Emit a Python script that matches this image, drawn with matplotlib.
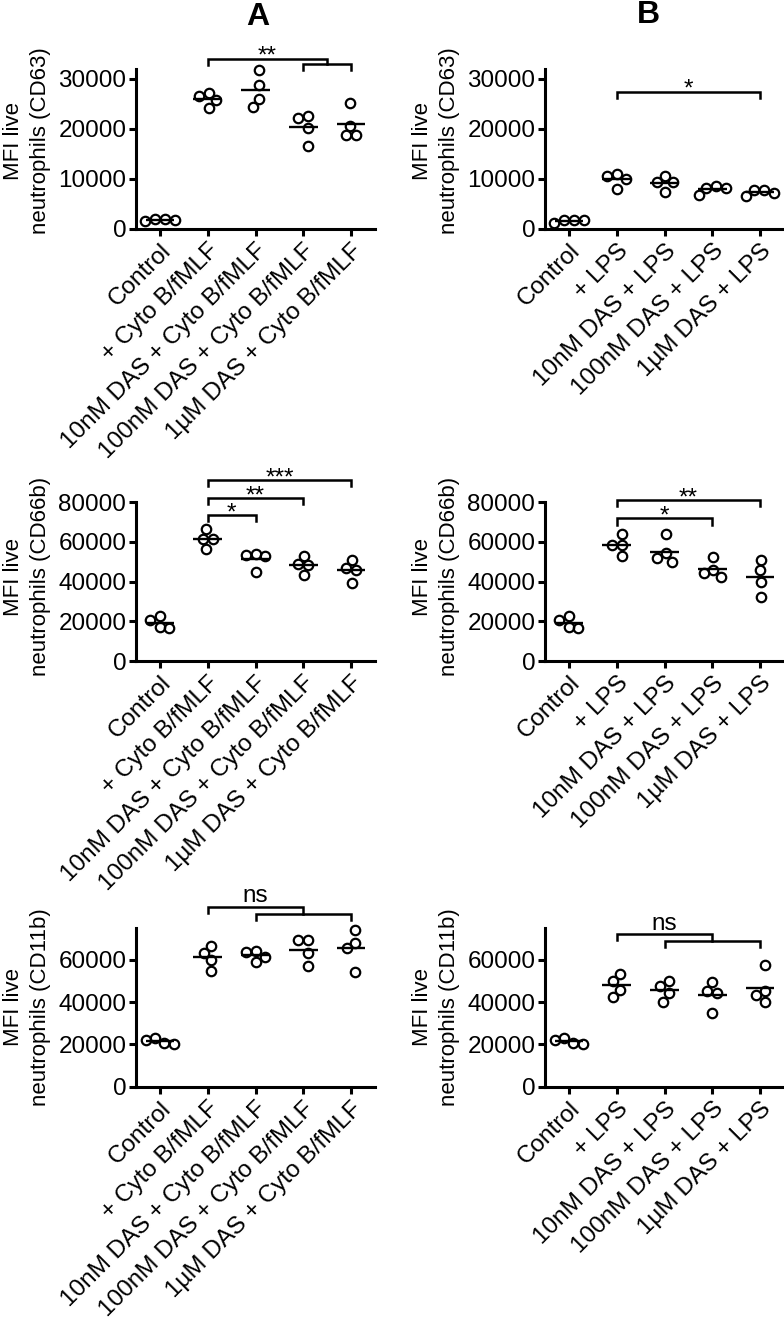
import numpy as np
import matplotlib.pyplot as plt

plt.rcParams['font.family'] = ['Liberation Sans', 'DejaVu Sans']

labels_a = ['Control', '+ Cyto B/fMLF', '10nM DAS + Cyto B/fMLF',
            '100nM DAS + Cyto B/fMLF', '1\u00b5M DAS + Cyto B/fMLF']
labels_b = ['Control', '+ LPS', '10nM DAS + LPS', '100nM DAS + LPS', '1\u00b5M DAS + LPS']

# MFI values, 4 donors per condition
cd63_a = [[1800, 1500, 1900, 1900], [26600, 27100, 25800, 24100],
          [31800, 28800, 25900, 24300], [22100, 22600, 20100, 16500],
          [25100, 20600, 18800, 18800]]
cd63_b = [[1700, 1100, 1700, 1800], [10900, 10500, 10000, 7900],
          [9300, 10500, 9300, 7300], [8100, 6800, 8100, 8500],
          [7700, 6500, 7100, 7700]]
cd66b_a = [[20600, 16700, 17200, 22600], [66300, 61600, 61600, 56300],
           [52800, 53300, 53600, 44900], [52800, 48200, 48700, 43200],
           [50700, 45700, 46600, 39300]]
cd66b_b = [[20600, 16700, 17200, 22600], [63800, 58300, 58600, 52800],
           [63800, 54100, 51600, 49900], [52400, 45700, 44100, 42400],
           [50700, 45700, 39800, 32300]]
cd11b_a = [[22100, 20200, 20900, 23200], [66800, 63500, 60100, 54800],
           [64000, 59200, 61600, 64400], [69500, 69500, 63500, 57200],
           [74300, 68200, 65600, 54500]]
cd11b_b = [[22100, 20200, 20900, 23200], [53400, 50100, 45800, 42400],
           [50100, 47700, 44300, 40300], [49800, 45500, 44200, 35100],
           [57700, 45500, 43500, 40300]]

# significance brackets: ('simple', x1, x2, y, text) / ('group', x1, (x2a, x2b), y_hi, y_lo, text)
sig_cd63_a = [('group', 1, (3, 4), 33940, 33000, '**')]
sig_cd63_b = [('simple', 1, 4, 27350, '*')]
sig_cd66b_a = [('simple', 1, 2, 73400, '*'), ('simple', 1, 3, 81900, '**'),
               ('simple', 1, 4, 90950, '***')]
sig_cd66b_b = [('simple', 1, 3, 71700, '*'), ('simple', 1, 4, 80900, '**')]
sig_cd11b_a = [('group', 1, (2, 4), 85300, 81850, 'ns')]
sig_cd11b_b = [('group', 1, (2, 4), 72200, 69050, 'ns')]

W, H = 784, 1319
fig = plt.figure(figsize=(W / 100, H / 100), dpi=100)

LW = 2.2


def swarm(ax, xc, vals, diam=10.0):
    # beeswarm-like horizontal spread, in pixels
    pts = ax.transData.transform(np.column_stack([np.full(len(vals), xc), vals]))
    ys = pts[:, 1]
    offs = np.zeros(len(vals))
    placed = []
    for i in np.argsort(-np.asarray(vals), kind='stable'):
        y = ys[i]
        cands = [0.0]
        for dx, py in placed:
            dy = abs(y - py)
            if dy < diam:
                s = np.sqrt(diam ** 2 - dy ** 2)
                cands += [dx - s, dx + s]
        cands.sort(key=lambda c: (abs(c), c))
        for c in cands:
            if all((c - dx) ** 2 + (y - py) ** 2 >= diam ** 2 - 1e-6 for dx, py in placed):
                offs[i] = c
                break
        placed.append((offs[i], y))
    offs -= (offs.max() + offs.min()) / 2
    ppc = ax.transData.transform((1, 0))[0] - ax.transData.transform((0, 0))[0]
    return xc + offs / ppc


def panel(left, bottom, height, data, labels, ymax, yticks, marker, sigs, ly):
    ax = fig.add_axes([left / W, 1 - bottom / H, 239 / W, height / H])
    ax.set_xlim(-0.5, 4.5)
    ax.set_ylim(0, ymax)
    for i, vals in enumerate(data):
        xs = swarm(ax, i, vals)
        ax.plot(xs, vals, 'o', ms=6.8, mfc='none', mec='k', mew=1.6, clip_on=False)
        ax.hlines(np.mean(vals), i - 0.3, i + 0.3, color='k', lw=1.7)
    ax.set_yticks(yticks, [str(t) for t in yticks])
    ax.set_xticks(range(5), labels, rotation=45, ha='right', rotation_mode='anchor')
    ax.spines[['top', 'right']].set_visible(False)
    ax.spines[['left', 'bottom']].set_linewidth(LW)
    ax.tick_params(direction='out', length=5, width=LW, labelsize=17.5, pad=2)
    ax.tick_params(axis='x', pad=3)
    ax.text(-0.457, ly, 'MFI live\nneutrophils (%s)' % marker, transform=ax.transAxes,
            rotation=90, ha='center', va='center', multialignment='center',
            fontsize=16, linespacing=1.35)

    leg = ymax * 0.038
    kw = dict(color='k', lw=1.8, clip_on=False, solid_joinstyle='miter')
    for s in sigs:
        if s[0] == 'simple':
            _, x1, x2, y, txt = s
            ax.plot([x1, x1, x2, x2], [y - leg, y, y, y - leg], **kw)
            xm = (x1 + x2) / 2
        else:
            _, x1, (xa, xb), y, yl, txt = s
            xj = (xa + xb) / 2
            ax.plot([x1, x1, xj, xj], [y - leg, y, y, yl], **kw)
            ax.plot([xa, xa, xb, xb], [yl - leg, yl, yl, yl - leg], **kw)
            xm = (x1 + xj) / 2
        dy = 3 if txt == 'ns' else -3
        ax.annotate(txt, (xm, y), xytext=(0, dy),
                    textcoords='offset points', ha='center', va='baseline',
                    fontsize=17.5, annotation_clip=False)
    return ax


rows = [(228.5, 160, 32000, [0, 10000, 20000, 30000], 'CD63',
         cd63_a, cd63_b, sig_cd63_a, sig_cd63_b, 0.55),
        (661, 159, 80000, [0, 20000, 40000, 60000, 80000], 'CD66b',
         cd66b_a, cd66b_b, sig_cd66b_a, sig_cd66b_b, 0.53),
        (1086.7, 158.4, 75000, [0, 20000, 40000, 60000], 'CD11b',
         cd11b_a, cd11b_b, sig_cd11b_a, sig_cd11b_b, 0.5)]

for bottom, h, ymax, yt, mk, da, db, sa, sb, ly in rows:
    panel(136, bottom, h, da, labels_a, ymax, yt, mk, sa, ly)
    panel(545, bottom, h, db, labels_b, ymax, yt, mk, sb, ly)

fig.text(258 / W, 1 - 17 / H, 'A', ha='center', va='center', fontsize=23, weight='bold')
fig.text(648 / W, 1 - 15 / H, 'B', ha='center', va='center', fontsize=23, weight='bold')

fig.savefig('out.png', dpi=100)
